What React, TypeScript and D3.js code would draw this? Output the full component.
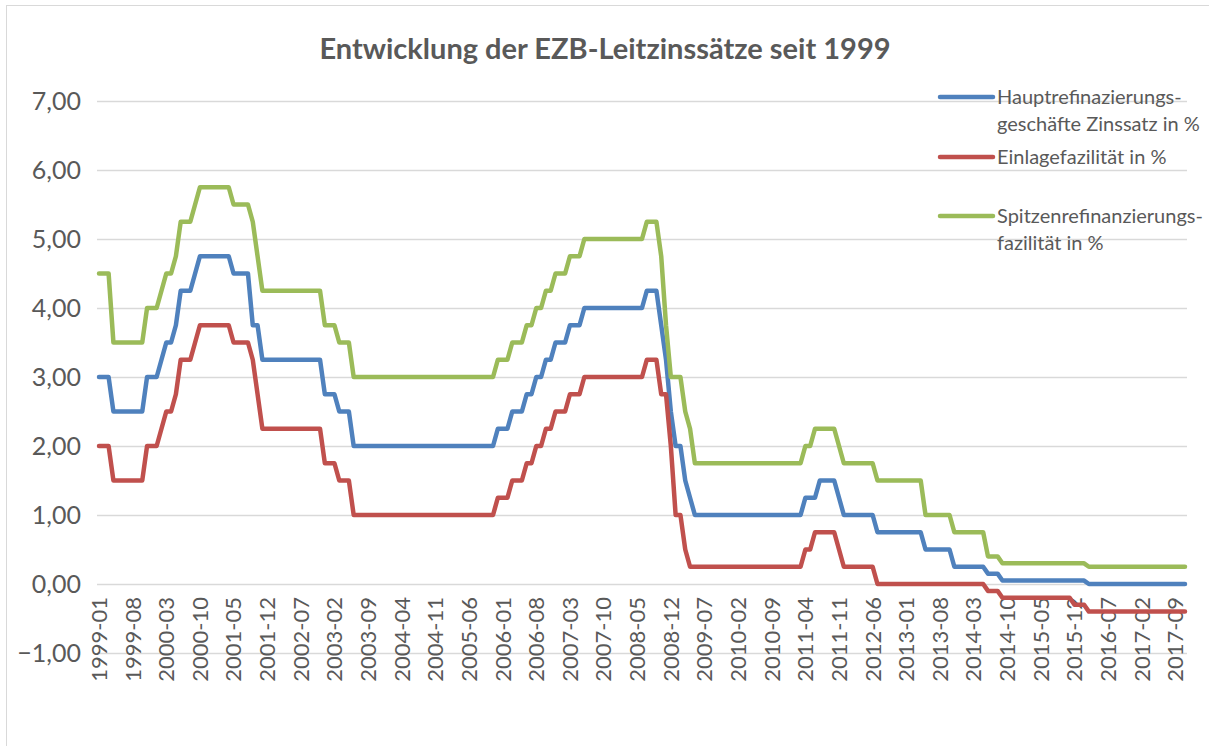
import { useEffect, useRef } from 'react';
import * as d3 from 'd3';

// Monatswerte 1999-01 .. 2017-11, als [Zinssatz, Anzahl Monate]
const hauptrefRuns: [number, number][] = [
  [3.0, 3], [2.5, 7], [3.0, 3], [3.25, 1], [3.5, 2], [3.75, 1], [4.25, 3], [4.5, 1],
  [4.75, 7], [4.5, 4], [3.75, 2], [3.25, 13], [2.75, 3], [2.5, 3], [2.0, 30],
  [2.25, 3], [2.5, 3], [2.75, 2], [3.0, 2], [3.25, 2], [3.5, 3], [3.75, 3], [4.0, 13],
  [4.25, 3], [3.75, 1], [3.25, 1], [2.5, 1], [2.0, 2], [1.5, 1], [1.25, 1], [1.0, 23],
  [1.25, 3], [1.5, 4], [1.25, 1], [1.0, 7], [0.75, 10], [0.5, 6], [0.25, 7],
  [0.15, 3], [0.05, 18], [0.0, 21],
];

const einlageRuns: [number, number][] = [
  [2.0, 3], [1.5, 7], [2.0, 3], [2.25, 1], [2.5, 2], [2.75, 1], [3.25, 3], [3.5, 1],
  [3.75, 7], [3.5, 4], [3.25, 1], [2.75, 1], [2.25, 13], [1.75, 3], [1.5, 3], [1.0, 30],
  [1.25, 3], [1.5, 3], [1.75, 2], [2.0, 2], [2.25, 2], [2.5, 3], [2.75, 3], [3.0, 13],
  [3.25, 3], [2.75, 2], [2.0, 1], [1.0, 2], [0.5, 1], [0.25, 24],
  [0.5, 2], [0.75, 5], [0.5, 1], [0.25, 7], [0.0, 23],
  [-0.1, 3], [-0.2, 15], [-0.3, 3], [-0.4, 21],
];

const spitzenRuns: [number, number][] = [
  [4.5, 3], [3.5, 7], [4.0, 3], [4.25, 1], [4.5, 2], [4.75, 1], [5.25, 3], [5.5, 1],
  [5.75, 7], [5.5, 4], [5.25, 1], [4.75, 1], [4.25, 13], [3.75, 3], [3.5, 3], [3.0, 30],
  [3.25, 3], [3.5, 3], [3.75, 2], [4.0, 2], [4.25, 2], [4.5, 3], [4.75, 3], [5.0, 13],
  [5.25, 3], [4.75, 1], [3.75, 1], [3.0, 3], [2.5, 1], [2.25, 1], [1.75, 23],
  [2.0, 2], [2.25, 5], [2.0, 1], [1.75, 7], [1.5, 10], [1.0, 6], [0.75, 7],
  [0.4, 3], [0.3, 18], [0.25, 21],
];

const tickLabels = [
  '1999-01', '1999-08', '2000-03', '2000-10', '2001-05', '2001-12', '2002-07', '2003-02',
  '2003-09', '2004-04', '2004-11', '2005-06', '2006-01', '2006-08', '2007-03', '2007-10',
  '2008-05', '2008-12', '2009-07', '2010-02', '2010-09', '2011-04', '2011-11', '2012-06',
  '2013-01', '2013-08', '2014-03', '2014-10', '2015-05', '2015-12', '2016-07', '2017-02',
  '2017-09',
];

const yTicks = [7, 6, 5, 4, 3, 2, 1, 0, -1];

const seriesNames = [
  ['Hauptrefinazierungs-', 'geschäfte Zinssatz in %'],
  ['Einlagefazilität in %'],
  ['Spitzenrefinanzierungs-', 'fazilität in %'],
];
const seriesColors = ['#4f81bd', '#c0504d', '#9bbb59'];

const TEXT = '#595959';
const FONT = 'Lato, "Open Sans", sans-serif';

const expand = (runs: [number, number][]) => runs.flatMap(([v, n]) => Array(n).fill(v) as number[]);

export default function App() {
  const svgRef = useRef<SVGSVGElement>(null);

  useEffect(() => {
    if (!svgRef.current) return;
    const width = 1209;
    const height = 746;

    const series = [expand(hauptrefRuns), expand(einlageRuns), expand(spitzenRuns)];
    const n = series[0].length;
    const months = d3.range(n).map((i) => {
      const y = 1999 + Math.floor(i / 12);
      const m = (i % 12) + 1;
      return `${y}-${String(m).padStart(2, '0')}`;
    });

    const svg = d3.select(svgRef.current);
    svg.selectAll('*').remove();
    svg.attr('width', width).attr('height', height);

    svg.append('rect').attr('width', width).attr('height', height).attr('fill', '#fff');
    svg
      .append('rect')
      .attr('x', 6.5)
      .attr('y', 5.5)
      .attr('width', width)
      .attr('height', height)
      .attr('fill', 'none')
      .attr('stroke', '#d9d9d9');

    const x = d3.scalePoint<string>().domain(months).range([99, 1185]);
    const y = d3.scaleLinear().domain([-1, 7]).range([653, 101]);

    // Titel
    svg
      .append('text')
      .attr('x', 605)
      .attr('y', 59)
      .attr('text-anchor', 'middle')
      .attr('font-family', FONT)
      .attr('font-weight', 700)
      .attr('font-size', 29)
      .attr('fill', TEXT)
      .text('Entwicklung der EZB-Leitzinssätze seit 1999');

    // Gitterlinien
    svg
      .append('g')
      .selectAll('line')
      .data(yTicks)
      .enter()
      .append('line')
      .attr('x1', 97)
      .attr('x2', 1187)
      .attr('y1', (d) => Math.round(y(d)) + 0.5)
      .attr('y2', (d) => Math.round(y(d)) + 0.5)
      .attr('stroke', '#d9d9d9')
      .attr('stroke-width', 1.5);

    const fmt = d3.format('.2f');
    svg
      .append('g')
      .selectAll('text')
      .data(yTicks)
      .enter()
      .append('text')
      .attr('x', 81)
      .attr('y', (d) => y(d))
      .attr('dy', '0.36em')
      .attr('text-anchor', 'end')
      .attr('font-family', FONT)
      .attr('font-size', 25)
      .attr('fill', TEXT)
      .text((d) => fmt(d).replace('.', ','));

    // X-Achsenbeschriftung
    svg
      .append('g')
      .selectAll('text')
      .data(tickLabels)
      .enter()
      .append('text')
      .attr('transform', (d) => `translate(${x(d)}, 597) rotate(-90)`)
      .attr('dy', '0.36em')
      .attr('text-anchor', 'end')
      .attr('font-family', FONT)
      .attr('font-size', 22)
      .attr('fill', TEXT)
      .text((d) => d);

    // Linien
    const line = d3
      .line<number>()
      .x((_, i) => x(months[i])!)
      .y((d) => y(d));

    series.forEach((s, k) => {
      svg
        .append('path')
        .datum(s)
        .attr('d', line)
        .attr('fill', 'none')
        .attr('stroke', seriesColors[k])
        .attr('stroke-width', 4.5)
        .attr('stroke-linejoin', 'round')
        .attr('stroke-linecap', 'round');
    });

    // Legende
    const legendY = [97, 157, 216];
    const legend = svg.append('g');
    seriesNames.forEach((lines, k) => {
      legend
        .append('line')
        .attr('x1', 940)
        .attr('x2', 993)
        .attr('y1', legendY[k])
        .attr('y2', legendY[k])
        .attr('stroke', seriesColors[k])
        .attr('stroke-width', 4.5)
        .attr('stroke-linecap', 'round');
      lines.forEach((t, j) => {
        legend
          .append('text')
          .attr('x', 997)
          .attr('y', legendY[k] + j * 26.5)
          .attr('dy', '0.36em')
          .attr('font-family', FONT)
          .attr('font-size', 20)
          .attr('fill', TEXT)
          .text(t);
      });
    });
  }, []);

  return (
    <div style={{ position: 'absolute', left: 0, top: 0 }}>
      <svg ref={svgRef} role="img" aria-label="Entwicklung der EZB-Leitzinssätze seit 1999" />
    </div>
  );
}
